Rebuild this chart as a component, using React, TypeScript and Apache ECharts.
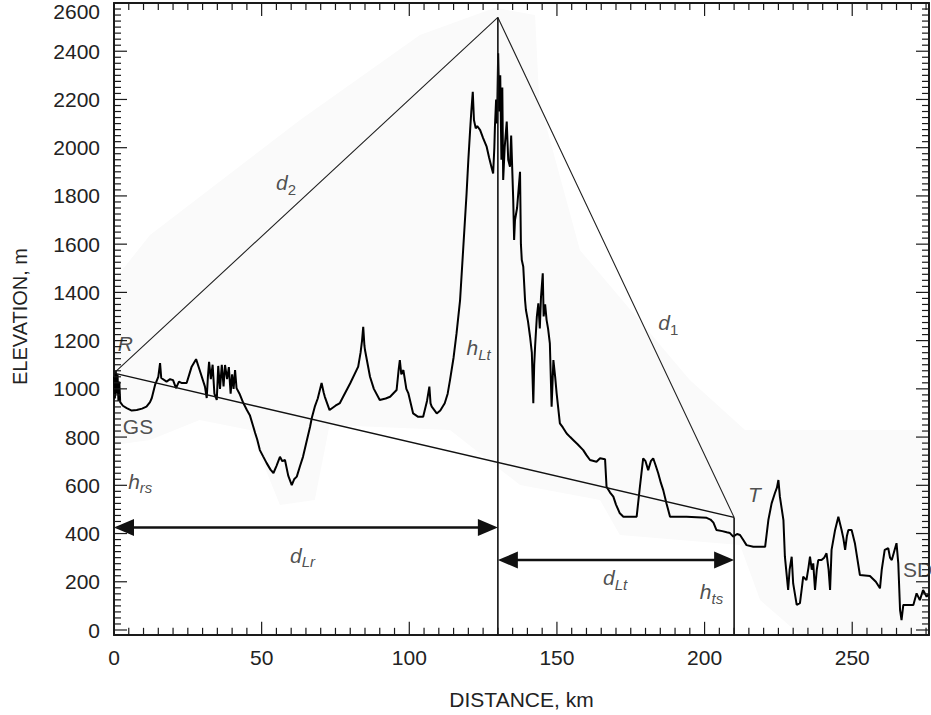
import React, { useEffect, useRef } from 'react';
import * as echarts from 'echarts';

const FONT = "'Liberation Sans', Arial, Helvetica, sans-serif";
const INK = '#1a1a1a';

const X_MIN = 0;
const X_MAX = 276;
const Y_MIN = 0;
const Y_MAX = 2600;
const Y_FLOOR = -20; // frame bottom sits slightly below 0 m

const xMajorTicks = [0, 50, 100, 150, 200, 250];
const yMajorTicks = [0, 200, 400, 600, 800, 1000, 1200, 1400, 1600, 1800, 2000, 2200, 2400, 2600];
const xMinorStep = 5;
const yMinorStep = 25;

// terrain profile [distance km, elevation m]
const profile: [number, number][] = [
  [0, 1050], [0.3, 960], [0.6, 1075], [0.9, 980], [1.2, 1060], [1.5, 950], [1.8, 1030], [2.1, 945],
  [3, 930], [4.3, 920], [6, 910], [7.7, 912], [9.5, 918], [11, 926], [12.2, 945], [12.8, 962],
  [13.9, 1016], [15, 1050], [15.6, 1107], [16, 1045], [17.8, 1030], [19, 1040], [20, 1036], [21, 1003],
  [22, 1030], [23, 1024], [24.6, 1024], [25.5, 1060], [26.3, 1092], [27.8, 1123], [29, 1078], [30.8, 1009],
  [31.4, 962], [31.8, 1050], [32.2, 1112], [32.8, 1040], [33.4, 1100], [34, 980], [34.8, 954], [35.3, 1095],
  [35.9, 1000], [36.5, 1100], [37.1, 1010], [37.6, 1099], [38.3, 1040], [38.9, 1090], [39.5, 980], [40, 1060],
  [40.5, 1000], [41, 1078], [41.5, 1003], [42.5, 980], [43.8, 941], [45, 912], [46, 891], [47, 850],
  [47.8, 817], [48.5, 790], [49.4, 746], [50.5, 720], [51.7, 692], [53, 665], [54, 651], [55, 680],
  [56.2, 718], [57, 700], [57.9, 705], [59, 640], [60.2, 601], [61, 625], [61.9, 636], [63, 680],
  [64, 718], [65, 770], [66.4, 843], [67, 880], [68, 926], [69, 960], [70.3, 1024], [71, 985],
  [71.4, 967], [73, 912], [75, 930], [76.5, 941], [77.6, 967], [80, 1023], [82.7, 1092], [83.5, 1150],
  [84, 1200], [84.4, 1257], [84.8, 1180], [85, 1161], [86.7, 1050], [88, 1000], [90, 954], [92, 960],
  [93.5, 967], [95.7, 995], [96.4, 1080], [96.8, 1119], [97.3, 1060], [98, 1078], [99, 1000], [99.7, 981],
  [101.3, 898], [103, 884], [104.7, 884], [106, 950], [106.8, 1009], [107.2, 940], [107.6, 926], [109.3, 898],
  [110.5, 910], [112, 940], [113, 980], [113.8, 1037], [115, 1130], [116, 1230], [117.2, 1368], [118.3, 1589],
  [119.4, 1810], [120, 1950], [120.6, 2073], [121, 2150], [121.5, 2232], [121.9, 2115], [122.5, 2080], [123, 2090],
  [124, 2073], [125, 2040], [126.2, 2004], [127, 1960], [127.8, 1921], [128.4, 1893], [128.8, 2000], [129, 2087],
  [129.4, 2200], [129.7, 2100], [130.1, 2392], [130.5, 2150], [130.8, 2300], [131.2, 1950], [131.5, 2250], [131.8, 1866],
  [132.3, 2000], [133, 2108], [133.5, 1950], [134.1, 1921], [134.5, 2050], [135.2, 1783], [135.5, 1617], [135.8, 1700],
  [136.5, 1750], [137.5, 1900], [137.8, 1600], [138.1, 1534], [138.6, 1506], [139.2, 1368], [139.5, 1327], [140.2, 1280],
  [140.9, 1216], [141.5, 1150], [142, 940], [142.3, 1100], [142.6, 1175], [143.2, 1300], [143.7, 1355], [144.2, 1250],
  [144.6, 1380], [145.2, 1479], [145.5, 1300], [146, 1350], [146.5, 1285], [147, 1250], [147.6, 1189], [148.2, 926],
  [148.8, 1119], [149.4, 1050], [149.9, 981], [151, 857], [152, 840], [153.3, 815], [154.5, 800], [155.5, 788],
  [157, 770], [158.9, 746], [160, 725], [161.2, 705], [163.4, 698], [164.6, 712], [166.3, 708], [166.8, 594],
  [168, 570], [169.1, 553], [170, 520], [171.3, 484], [172.5, 470], [177, 470], [178.1, 594], [179.2, 712],
  [180, 700], [180.9, 663], [181.8, 700], [182.6, 712], [183.5, 680], [184.3, 650], [185.2, 610], [186, 580],
  [187.1, 525], [188.3, 470], [193.9, 470], [200.7, 465], [202, 458], [203, 445], [204, 415], [206, 410],
  [207.5, 405], [208.6, 402], [209.7, 387], [211, 398], [212, 394], [213, 375], [214.2, 352], [216.5, 345],
  [220.5, 345], [221.6, 456], [222.7, 525], [223.8, 567], [224.5, 590], [225, 622], [225.5, 553], [226.7, 456],
  [227.2, 304], [228.3, 166], [228.8, 250], [229.5, 304], [230, 193], [231.2, 104], [232.3, 111], [233, 180],
  [233.4, 221], [234.5, 207], [235.2, 260], [235.7, 304], [236.3, 250], [236.8, 276], [237.4, 166], [238, 250],
  [238.5, 290], [239.6, 290], [240.5, 300], [241.3, 318], [242, 250], [242.5, 166], [243, 332], [244.2, 415],
  [245.3, 470], [246.4, 415], [247, 380], [247.6, 332], [248.2, 390], [248.7, 415], [249.8, 415], [250.9, 360],
  [252.6, 228], [256, 224], [258, 200], [259.4, 173], [260, 250], [261, 332], [262.2, 339], [262.8, 300],
  [263.4, 290], [264.3, 330], [265, 360], [265.6, 276], [266.2, 83], [266.7, 41], [267.3, 104], [270.7, 104],
  [271.8, 152], [272.9, 124], [274, 166], [275.2, 138], [276, 150],
];

// geometry points
const pointR: [number, number] = [0, 1065];
const apex: [number, number] = [130, 2540];
const pointT: [number, number] = [210, 467];

// horizontal distance arrows: [fromKm, toKm, elevation]
const arrowDefs: [number, number, number][] = [
  [0, 130, 425],
  [130, 210, 290],
];

// light shaded halo around the profile (data coordinates)
const shadeOutline: [number, number][] = [
  [0, 1450], [12.2, 1638], [63, 2115], [103.6, 2467], [129, 2580], [142.6, 2550], [144, 2197],
  [157.8, 1575], [195, 1037], [213.7, 829], [276, 829], [276, 0], [232.3, 0], [218.8, 124],
  [212, 352], [171.3, 394], [164.6, 539], [137.5, 601], [113.8, 829], [73, 850], [68, 539],
  [56.2, 518], [46, 829], [29, 871], [12.2, 788], [0, 767],
];

// annotation labels (left edge, vertical centre)
const labelPos: [number, number][] = [
  [1.3, 1187], [3.0, 842], [4.8, 616], [54.9, 1854], [119.4, 1170], [184.3, 1274],
  [214.7, 561], [165.6, 216], [198.4, 158], [267.2, 250], [59.6, 310],
];
const labelText: string[] = [
  '{i|R}', '{n|GS}', '{i|h}{s|rs}', '{i|d}{d|2}', '{i|h}{s|Lt}', '{i|d}{d|1}',
  '{i|T}', '{i|d}{s|Lt}', '{i|h}{s|ts}', '{n|SD}', '{i|d}{s|Lr}',
];

function buildSteps(min: number, max: number, step: number): number[] {
  const out: number[] = [];
  for (let v = min; v <= max + 1e-9; v += step) out.push(v);
  return out;
}

const xTickValues = buildSteps(0, 275, xMinorStep);
const yTickValues = buildSteps(0, 2600, yMinorStep);

const LABEL_SIZE = 21;
const MAJOR_LEN = 13;
const MINOR_LEN = 7;
const CHART_W = 931;
const CHART_H = 715;
const GRID = { left: 114, right: 2, top: 3, bottom: 85 };

function makeX(position: 'bottom' | 'top', withLabels: boolean) {
  return {
    type: 'value',
    min: X_MIN,
    max: X_MAX,
    position,
    offset: position === 'bottom' ? 5 : 0,
    splitLine: { show: false },
    axisLine: { show: true, onZero: false, lineStyle: { color: INK, width: 2 } },
    axisTick: { show: false },
    axisLabel: withLabels
      ? { show: true, customValues: xMajorTicks, fontSize: LABEL_SIZE, fontFamily: FONT, color: '#222', margin: 12 }
      : { show: false },
    ...(withLabels
      ? {
          name: 'DISTANCE, km',
          nameLocation: 'middle',
          nameGap: 54,
          nameTextStyle: { fontSize: LABEL_SIZE, fontFamily: FONT, color: '#222' },
        }
      : {}),
  };
}

function makeY(position: 'left' | 'right', withLabels: boolean) {
  return {
    type: 'value',
    min: Y_MIN,
    max: Y_MAX,
    position,
    splitLine: { show: false },
    axisLine: { show: true, onZero: false, lineStyle: { color: INK, width: 2 } },
    axisTick: { show: false },
    axisLabel: withLabels
      ? {
          show: true,
          customValues: yMajorTicks,
          fontSize: LABEL_SIZE,
          fontFamily: FONT,
          color: '#222',
          margin: 14,
          formatter: (v: number) => (v === 2600 ? '{top|2600}' : String(v)),
          rich: { top: { padding: [16, 0, 0, 0], fontSize: LABEL_SIZE, fontFamily: FONT, color: '#222' } },
        }
      : { show: false },
    ...(withLabels
      ? {
          name: 'ELEVATION, m',
          nameLocation: 'middle',
          nameGap: 84,
          nameTextStyle: { fontSize: LABEL_SIZE - 1, fontFamily: FONT, color: '#222' },
        }
      : {}),
  };
}

export default function App() {
  const ref = useRef<HTMLDivElement>(null);

  useEffect(() => {
    if (!ref.current) return;
    const chart = echarts.init(ref.current, undefined, { renderer: 'svg' });

    const option: any = {
      animation: false,
      backgroundColor: '#ffffff',
      grid: { ...GRID, containLabel: false },
      xAxis: [makeX('bottom', true), makeX('top', false)],
      yAxis: [makeY('left', true), makeY('right', false)],
      series: [
        {
          type: 'custom',
          name: 'shade',
          z: -1,
          silent: true,
          clip: false,
          data: [[0, 0]],
          renderItem: (_p: any, api: any) => {
            const floorY = api.coord([0, Y_FLOOR])[1];
            const pts = shadeOutline.map((pt) => {
              const c = api.coord(pt);
              return pt[1] <= Y_MIN ? [c[0], floorY] : c;
            });
            return {
              type: 'polygon',
              shape: { points: pts },
              style: { fill: '#fafafa', stroke: 'none' },
            };
          },
        },
        {
          type: 'line',
          name: 'profile',
          data: profile,
          symbol: 'none',
          lineStyle: { color: '#000', width: 2 },
          z: 3,
        },
        {
          type: 'line',
          name: 'd2-d1',
          data: [pointR, apex, pointT],
          symbol: 'none',
          lineStyle: { color: '#222', width: 1.1 },
          z: 4,
        },
        {
          type: 'line',
          name: 'R-T',
          data: [pointR, pointT],
          symbol: 'none',
          lineStyle: { color: '#111', width: 1.4 },
          z: 4,
        },
        {
          type: 'line',
          name: 'vert1',
          data: [[apex[0], Y_FLOOR], apex],
          symbol: 'none',
          clip: false,
          lineStyle: { color: '#111', width: 1.6 },
          z: 4,
        },
        {
          type: 'line',
          name: 'vert2',
          data: [[pointT[0], Y_FLOOR], pointT],
          symbol: 'none',
          clip: false,
          lineStyle: { color: '#111', width: 1.6 },
          z: 4,
        },
        {
          type: 'custom',
          name: 'arrows',
          data: arrowDefs,
          z: 5,
          renderItem: (_p: any, api: any) => {
            const a = api.coord([api.value(0), api.value(2)]);
            const b = api.coord([api.value(1), api.value(2)]);
            const L = 20;
            const H = 8.5;
            return {
              type: 'group',
              children: [
                {
                  type: 'line',
                  shape: { x1: a[0] + L - 2, y1: a[1], x2: b[0] - L + 2, y2: b[1] },
                  style: { stroke: '#111', lineWidth: 2.6 },
                },
                {
                  type: 'polygon',
                  shape: { points: [[a[0], a[1]], [a[0] + L, a[1] - H], [a[0] + L, a[1] + H]] },
                  style: { fill: '#111' },
                },
                {
                  type: 'polygon',
                  shape: { points: [[b[0], b[1]], [b[0] - L, b[1] - H], [b[0] - L, b[1] + H]] },
                  style: { fill: '#111' },
                },
              ],
            };
          },
        },
        {
          type: 'scatter',
          name: 'labels',
          symbolSize: 0,
          z: 6,
          silent: true,
          data: labelPos.map((p, i) => ({ value: p, name: labelText[i] })),
          label: {
            show: true,
            position: [0, 0],
            align: 'left',
            verticalAlign: 'middle',
            formatter: (p: any) => p.name,
            rich: {
              i: { fontStyle: 'italic', fontSize: 21, lineHeight: 28, fontFamily: FONT, color: '#222' },
              n: { fontSize: 21, lineHeight: 28, fontFamily: FONT, color: '#222' },
              s: { fontStyle: 'italic', fontSize: 15, lineHeight: 15, verticalAlign: 'bottom', fontFamily: FONT, color: '#222' },
              d: { fontSize: 15, lineHeight: 15, verticalAlign: 'bottom', fontFamily: FONT, color: '#222' },
            },
          },
        },
      ],
    };

    chart.setOption(option);

    // tick marks and frame corners, placed through the chart's own axis scales
    const px = (x: number, y: number): number[] =>
      chart.convertToPixel({ xAxisIndex: 0, yAxisIndex: 0 }, [x, y]) as number[];
    const elements: any[] = [];
    const addLine = (x1: number, y1: number, x2: number, y2: number, w: number) => {
      elements.push({
        type: 'line',
        silent: true,
        z: 100,
        shape: { x1, y1, x2, y2 },
        style: { stroke: INK, lineWidth: w },
      });
    };
    const floorY = px(0, Y_FLOOR)[1];
    const topY = px(0, Y_MAX)[1];
    const leftX = px(X_MIN, 0)[0];
    const rightX = px(X_MAX, 0)[0];
    xTickValues.forEach((v) => {
      const len = xMajorTicks.includes(v) ? MAJOR_LEN : MINOR_LEN;
      const x = px(v, 0)[0];
      addLine(x, floorY, x, floorY - len, 1.2);
      addLine(x, topY, x, topY + len, 1.2);
    });
    yTickValues.forEach((v) => {
      const len = yMajorTicks.includes(v) ? MAJOR_LEN : MINOR_LEN;
      const y = px(0, v)[1];
      addLine(leftX, y, leftX + len, y, 1.2);
      addLine(rightX, y, rightX - len, y, 1.2);
    });
    const zeroY = px(0, Y_MIN)[1];
    addLine(leftX, zeroY, leftX, floorY + 1, 2);
    addLine(rightX, zeroY, rightX, floorY + 1, 2);

    chart.setOption({ graphic: { elements } });

    return () => chart.dispose();
  }, []);

  return (
    <div
      ref={ref}
      style={{ position: 'absolute', left: 0, top: 0, width: CHART_W, height: CHART_H }}
    />
  );
}
